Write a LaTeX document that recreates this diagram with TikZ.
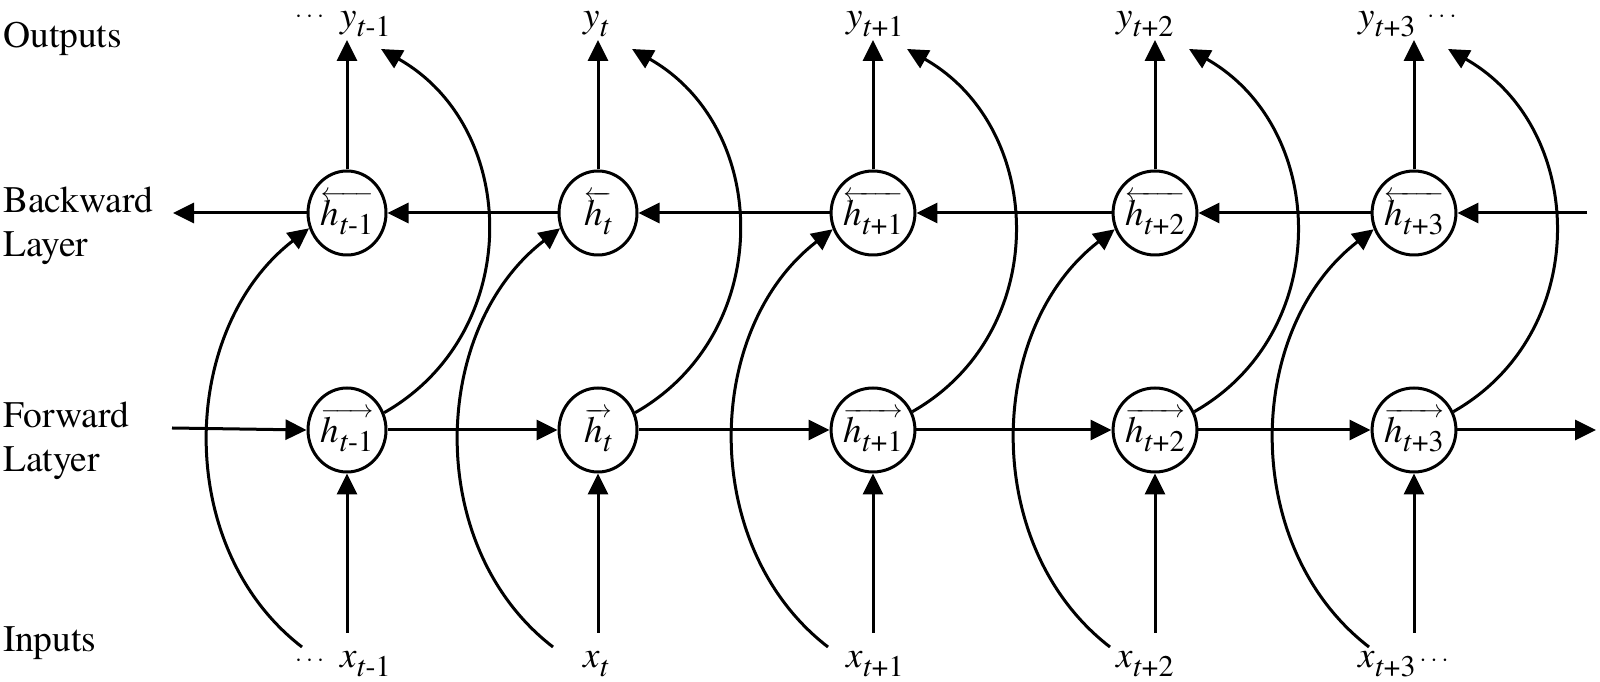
\documentclass[tikz,border=0pt]{standalone}
\usepackage{amsmath}
\usepackage{fontspec}
\setmainfont{texgyretermes}[Extension=.otf, UprightFont=*-regular, ItalicFont=*-italic, BoldFont=*-bold, BoldItalicFont=*-bolditalic]
\usetikzlibrary{shapes.geometric,arrows.meta}
\newcommand{\sbx}[1]{\raisebox{-9pt}{\fontsize{30}{30}\selectfont #1}}
\newcommand{\vlab}[2]{\textit{#1}\sbx{#2}}
\newcommand{\hbk}[1]{$\overleftarrow{\hbox{\vlab{h}{#1}}}$}
\newcommand{\hfw}[1]{$\overrightarrow{\hbox{\vlab{h}{#1}}}$}
\newcommand{\dts}{{\fontsize{30}{30}\selectfont$\cdots$}}
\tikzset{
  hid/.style={ellipse, draw, line width=3pt, minimum width=78pt, minimum height=84pt, inner sep=0pt, font=\fontsize{37}{37}\selectfont},
  con/.style={line width=3pt, -{Triangle[length=21pt,width=20pt]}},
  lab/.style={font=\fontsize{37}{37}\selectfont, inner sep=0pt, anchor=base west},
  side/.style={font=\fontsize{37.5}{43.5}\selectfont, inner sep=0pt, anchor=base west},
}
\begin{document}
\begin{tikzpicture}[x=1pt,y=1pt]
\fill[white] (0,0) rectangle (1600,682);
\useasboundingbox (0,0) rectangle (1600,682);

% side labels
\node[side] (lout) at (3,634) {Outputs};
\node[side] (lback) at (3,469) {\vtop{\hbox{Backward}\hbox{Layer}}};
\node[side] (lfwd) at (3,254) {\vtop{\hbox{Forward}\hbox{Latyer}}};
\node[side] (lin) at (3,30) {Inputs};

% hidden nodes
\node[hid] (b1) at (347,469) {\hbk{\textit{t}-1}};
\node[hid] (b2) at (598,469) {\hbk{\textit{t}}};
\node[hid] (b3) at (873,469) {\hbk{\textit{t}+1}};
\node[hid] (b4) at (1155,469) {\hbk{\textit{t}+2}};
\node[hid] (b5) at (1414,469) {\hbk{\textit{t}+3}};
\node[hid] (f1) at (347,252) {\hfw{\textit{t}-1}};
\node[hid] (f2) at (598,252) {\hfw{\textit{t}}};
\node[hid] (f3) at (873,252) {\hfw{\textit{t}+1}};
\node[hid] (f4) at (1155,252) {\hfw{\textit{t}+2}};
\node[hid] (f5) at (1414,252) {\hfw{\textit{t}+3}};

% outputs
\node[lab] (y1) at (340,654) {\llap{\raisebox{5pt}{\dts}\hspace{12pt}}\vlab{y}{\textit{t}-1}};
\node[lab] (y2) at (583,654) {\vlab{y}{\textit{t}}};
\node[lab] (y3) at (846,654) {\vlab{y}{\textit{t}+1}};
\node[lab] (y4) at (1116,654) {\vlab{y}{\textit{t}+2}};
\node[lab] (y5) at (1358,654) {\vlab{y}{\textit{t}+3}\rlap{\hspace{12pt}\raisebox{5pt}{\dts}}};

% inputs
\node[lab] (x1) at (340,14) {\llap{\raisebox{1pt}{\dts}\hspace{12pt}}\vlab{x}{\textit{t}-1}};
\node[lab] (x2) at (583,14) {\vlab{x}{\textit{t}}};
\node[lab] (x3) at (846,14) {\vlab{x}{\textit{t}+1}};
\node[lab] (x4) at (1116,14) {\vlab{x}{\textit{t}+2}};
\node[lab] (x5) at (1358,14) {\vlab{x}{\textit{t}+3}\rlap{\hspace{4pt}\raisebox{1pt}{\dts}}};

% vertical and curved connectors
\foreach \i/\X in {1/347,2/598,3/873,4/1155,5/1414}{
  \coordinate (yo\i) at (\X,642);
  \coordinate (xi\i) at (\X,49);
  \coordinate (fo\i) at ({\X+34},633);
  \coordinate (ib\i) at ({\X-45},35);
  \draw[con] (b\i.north) -- (yo\i);
  \draw[con] (xi\i) -- (f\i.south);
  \draw[con] (f\i.25) to[out=29.6,in=-29.6,looseness=1.13] (fo\i);
  \draw[con] (ib\i) to[out=142.4,in=-142.4,looseness=1.0] (b\i.202);
}

% forward row
\coordinate (fin) at (172,254);
\coordinate (fout) at (1596,252);
\draw[con] (fin) -- (f1.west);
\draw[con] (f1) -- (f2);
\draw[con] (f2) -- (f3);
\draw[con] (f3) -- (f4);
\draw[con] (f4) -- (f5);
\draw[con] (f5) -- (fout);

% backward row
\coordinate (bin) at (1587,469);
\coordinate (bout) at (173,469);
\draw[con] (bin) -- (b5.east);
\draw[con] (b5) -- (b4);
\draw[con] (b4) -- (b3);
\draw[con] (b3) -- (b2);
\draw[con] (b2) -- (b1);
\draw[con] (b1) -- (bout);
\end{tikzpicture}
\end{document}
